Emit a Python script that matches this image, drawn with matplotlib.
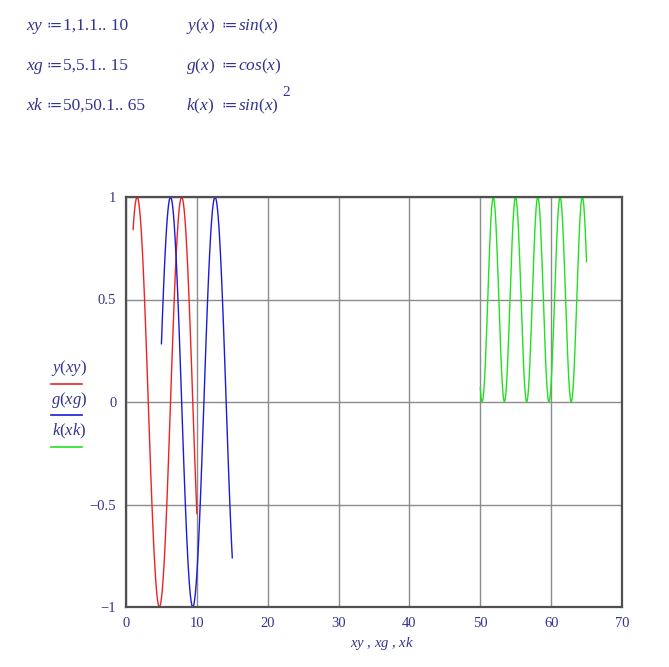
import numpy as np
import matplotlib
matplotlib.use('Agg')
import matplotlib.pyplot as plt

plt.rcParams['font.family'] = ['Liberation Serif', 'DejaVu Sans']
plt.rcParams['mathtext.fontset'] = 'custom'
plt.rcParams['mathtext.rm'] = 'Liberation Serif'
plt.rcParams['mathtext.it'] = 'Liberation Serif:italic'

# ranges as defined in the worksheet
xy = np.round(np.arange(10, 101) / 10, 1)      # 1, 1.1 .. 10
xg = np.round(np.arange(50, 151) / 10, 1)      # 5, 5.1 .. 15
xk = np.round(np.arange(500, 651) / 10, 1)     # 50, 50.1 .. 65

# y(xy) = sin(xy)
y_vals = [
    0.841, 0.891, 0.932, 0.964, 0.985, 0.997, 1.000, 0.992, 0.974, 0.946,
    0.909, 0.863, 0.808, 0.746, 0.676, 0.598, 0.516, 0.427, 0.335, 0.239,
    0.141, 0.042, -0.058, -0.158, -0.256, -0.351, -0.443, -0.530, -0.612, -0.688,
    -0.757, -0.818, -0.872, -0.916, -0.952, -0.978, -0.994, -1.000, -0.996, -0.982,
    -0.959, -0.926, -0.883, -0.832, -0.773, -0.706, -0.631, -0.551, -0.465, -0.374,
    -0.279, -0.182, -0.083, 0.017, 0.117, 0.215, 0.312, 0.405, 0.494, 0.578,
    0.657, 0.729, 0.794, 0.850, 0.899, 0.938, 0.968, 0.988, 0.999, 0.999,
    0.989, 0.970, 0.941, 0.902, 0.855, 0.799, 0.734, 0.663, 0.585, 0.501,
    0.412, 0.319, 0.223, 0.125, 0.025, -0.075, -0.174, -0.272, -0.366, -0.457,
    -0.544,
]

# g(xg) = cos(xg)
g_vals = [
    0.284, 0.378, 0.469, 0.554, 0.635, 0.709, 0.776, 0.835, 0.886, 0.927,
    0.960, 0.983, 0.997, 1.000, 0.993, 0.977, 0.950, 0.914, 0.869, 0.816,
    0.754, 0.685, 0.608, 0.526, 0.439, 0.347, 0.251, 0.153, 0.054, -0.046,
    -0.146, -0.244, -0.339, -0.431, -0.519, -0.602, -0.679, -0.749, -0.811, -0.865,
    -0.911, -0.948, -0.975, -0.992, -1.000, -0.997, -0.985, -0.962, -0.930, -0.889,
    -0.839, -0.781, -0.715, -0.641, -0.561, -0.476, -0.385, -0.291, -0.194, -0.095,
    0.004, 0.104, 0.203, 0.300, 0.394, 0.483, 0.568, 0.648, 0.720, 0.786,
    0.844, 0.893, 0.934, 0.965, 0.986, 0.998, 0.999, 0.991, 0.973, 0.945,
    0.907, 0.861, 0.806, 0.743, 0.672, 0.595, 0.512, 0.423, 0.331, 0.235,
    0.137, 0.037, -0.063, -0.162, -0.260, -0.355, -0.446, -0.534, -0.615, -0.691,
    -0.760,
]

# k(xk) = sin(xk)^2
k_vals = [
    0.069, 0.027, 0.004, 0.001, 0.018, 0.054, 0.108, 0.177, 0.260, 0.351,
    0.449, 0.549, 0.647, 0.739, 0.821, 0.891, 0.945, 0.982, 0.999, 0.996,
    0.973, 0.932, 0.873, 0.800, 0.714, 0.620, 0.522, 0.422, 0.325, 0.236,
    0.157, 0.091, 0.042, 0.011, 0.000,
    0.009, 0.037, 0.083, 0.147, 0.224, 0.312, 0.408, 0.508, 0.607, 0.702,
    0.788, 0.864, 0.925, 0.969, 0.994, 0.999, 0.985, 0.951, 0.900, 0.832,
    0.751, 0.660, 0.563, 0.463, 0.365, 0.272, 0.188, 0.117, 0.061, 0.022,
    0.002,
    0.003, 0.023, 0.062, 0.118, 0.190, 0.274, 0.368, 0.466, 0.566, 0.663,
    0.754, 0.834, 0.901, 0.953, 0.986, 1.000, 0.994, 0.968, 0.923, 0.862,
    0.786, 0.699, 0.604, 0.505, 0.405, 0.310, 0.222, 0.145, 0.082, 0.036,
    0.008,
    0.000, 0.012, 0.043, 0.093, 0.159, 0.238, 0.328, 0.425, 0.524, 0.623,
    0.717, 0.802, 0.875, 0.933, 0.974, 0.996, 0.998, 0.981, 0.944, 0.889,
    0.819, 0.737, 0.644, 0.546, 0.447, 0.349, 0.257, 0.175, 0.106, 0.053,
    0.017, 0.001,
    0.005, 0.028, 0.070, 0.130, 0.204, 0.290, 0.384, 0.483, 0.582, 0.679,
    0.768, 0.846, 0.911, 0.960, 0.990, 1.000, 0.991, 0.962, 0.914, 0.850,
    0.772, 0.684,
]

x_ticks = [0, 10, 20, 30, 40, 50, 60, 70]
y_ticks = [-1, -0.5, 0, 0.5, 1]
y_tick_labels = ['\u22121', '\u22120.5', '0', '0.5', '1']

# worksheet definitions: (name, value) for the range column and the function column
range_defs = [(r'$xy$', '1,1.1.. 10'), (r'$xg$', '5,5.1.. 15'), (r'$xk$', '50,50.1.. 65')]
func_defs = [(r'$y(x)$', r'$sin(x)$'), (r'$g(x)$', r'$cos(x)$'), (r'$k(x)$', r'$sin(x)$')]
legend_labels = [r'$y(xy)$', r'$g(xg)$', r'$k(xk)$']
x_label = r'$xy$ , $xg$ , $xk$'

text_col = '#33338f'
red = '#ee2222'
blue = '#1a1ad8'
green = '#22e022'

W, H = 669, 667
fig = plt.figure(figsize=(W / 100, H / 100), dpi=100)
ax = fig.add_axes([126 / W, 1 - 607 / H, 496 / W, 410 / H])

ax.plot(xy, y_vals, color=red, lw=1.0)
ax.plot(xg, g_vals, color=blue, lw=1.0)
ax.plot(xk, k_vals, color=green, lw=1.0)

ax.set_xlim(0, 70)
ax.set_ylim(-1, 1)
ax.set_xticks(x_ticks)
ax.set_yticks(y_ticks)
ax.set_yticklabels(y_tick_labels)
ax.tick_params(length=0, labelsize=10.5, labelcolor=text_col, pad=7)
ax.grid(True, color='#8c8c8c', lw=1.0)
ax.set_axisbelow(True)
for s in ax.spines.values():
    s.set_color('#505050')
    s.set_linewidth(1.6)

fig.text(382 / W, 1 - 643 / H, x_label, ha='center', va='center',
         fontsize=10.5, color=text_col)


def px(x, y):
    return x / W, 1 - y / H


fs = 12.5
rows_base = [30, 70, 110]
for (name, val), (fname, fval), rb in zip(range_defs, func_defs, rows_base):
    fig.text(*px(26, rb), name, ha='left', va='baseline', fontsize=fs, color=text_col)
    fig.text(*px(46, rb), '\u2254', ha='left', va='baseline', fontsize=11,
             color=text_col, family='DejaVu Sans')
    fig.text(*px(63, rb), val, ha='left', va='baseline', fontsize=fs, color=text_col)
    fig.text(*px(186, rb), fname, ha='left', va='baseline', fontsize=fs, color=text_col)
    fig.text(*px(221, rb), '\u2254', ha='left', va='baseline', fontsize=11,
             color=text_col, family='DejaVu Sans')
    fig.text(*px(238, rb), fval, ha='left', va='baseline', fontsize=fs, color=text_col)
# exponent of sin(x)^2
fig.text(*px(282, 93), '2', ha='left', va='center', fontsize=11, color=text_col)

# legend at the left of the plot
leg_colors = [red, blue, green]
leg_text_y = [368, 400, 431]
leg_line_y = [384, 415, 447]
for lab, c, ty, ly in zip(legend_labels, leg_colors, leg_text_y, leg_line_y):
    fig.text(*px(69, ty), lab, ha='center', va='center', fontsize=12, color=text_col)
    fig.add_artist(plt.Line2D([51 / W, 82 / W], [1 - ly / H, 1 - ly / H], color=c, lw=1.2))

fig.savefig('out.png', dpi=100)
